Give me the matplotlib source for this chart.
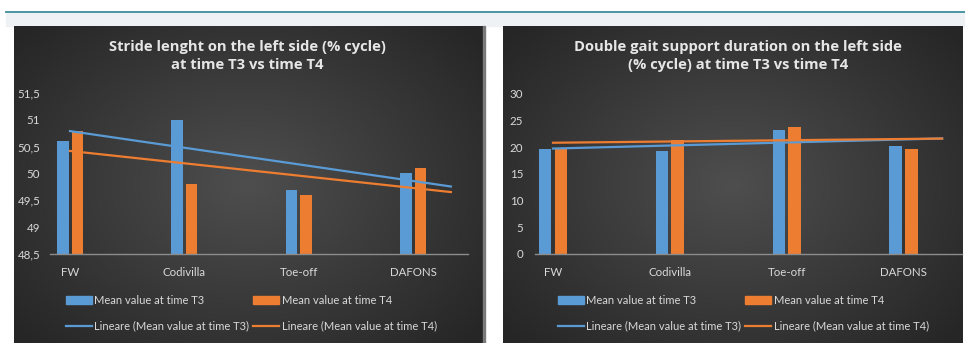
import numpy as np
import matplotlib.pyplot as plt
from matplotlib.patches import Rectangle
from matplotlib.lines import Line2D

# data
categories = ['FW', 'Codivilla', 'Toe-off', 'DAFONS']
stride_t3 = [50.6, 51.0, 49.7, 50.0]
stride_t4 = [50.8, 49.8, 49.6, 50.1]
double_t3 = [19.7, 19.3, 23.2, 20.3]
double_t4 = [19.8, 21.4, 23.9, 19.75]
stride_ticks = [48.5, 49, 49.5, 50, 50.5, 51, 51.5]
stride_ticklabels = ['48,5', '49', '49,5', '50', '50,5', '51', '51,5']
double_ticks = [0, 5, 10, 15, 20, 25, 30]
titles = ['Stride lenght on the left side (% cycle)\nat time T3 vs time T4',
          'Double gait support duration on the left side\n(% cycle) at time T3 vs time T4']
labels = ['Mean value at time T3', 'Mean value at time T4',
          'Lineare (Mean value at time T3)', 'Lineare (Mean value at time T4)']

BLUE = '#5b9bd5'
ORANGE = '#ed7d31'
TXT = '#d9d9d9'
FONT = 'Lato'

W, H = 965, 343
fig = plt.figure(figsize=(W / 100, H / 100), dpi=100, facecolor='white')


def box(x0, y0, x1, y1):
    """pixel box (top-left origin) -> figure fractions [l, b, w, h]"""
    return [x0 / W, 1 - y1 / H, (x1 - x0) / W, (y1 - y0) / H]


# page decoration: teal rule and light band
fig.add_artist(Rectangle((6 / W, 1 - 26 / H), 1, 13.5 / H, transform=fig.transFigure,
                         color='#eef2f5', zorder=0))
fig.add_artist(Line2D([6 / W, 1], [1 - 11.8 / H] * 2, transform=fig.transFigure,
                      color='#3b8e9c', lw=1.3, zorder=1))

# dark panels with radial gradient
yy, xx = np.mgrid[-1:1:200j, -1:1:300j]
rad = np.clip(np.sqrt(xx ** 2 + (yy * 0.9) ** 2) / 1.3, 0, 1)
grad = 1 - rad
for px0, px1 in [(14, 483), (503, 963)]:
    bg = fig.add_axes(box(px0, 26, px1, 343), zorder=0)
    bg.imshow(grad, cmap=plt.matplotlib.colors.LinearSegmentedColormap.from_list(
        'bg', ['#262626', '#4e4e4e']), aspect='auto', extent=(0, 1, 0, 1))
    bg.axis('off')
fig.add_artist(Rectangle((483 / W, 0), 2 / W, 1 - 26 / H, transform=fig.transFigure,
                         color='#7a7a7a', zorder=1))


def draw(rect, t3, t4, ticks, ticklabels, ylim, xlim, half, width, title, tx, lpad, leg_x):
    ax = fig.add_axes(box(*rect), zorder=2)
    ax.set_facecolor('none')
    x = np.arange(len(categories))
    ax.bar(x - half, t3, width, color=BLUE, bottom=0, zorder=2)
    ax.bar(x + half, t4, width, color=ORANGE, zorder=2)
    xt = np.array([0, 3.33])
    lines = []
    for vals, c in [(t3, BLUE), (t4, ORANGE)]:
        k, b = np.polyfit(x, vals, 1)
        ln, = ax.plot(xt, k * xt + b, color=c, lw=1.6, zorder=3)
        lines.append(ln)
    ax.set_ylim(*ylim)
    ax.set_xlim(*xlim)
    ax.set_yticks(ticks)
    ax.set_yticklabels(ticklabels)
    ax.set_xticks(x)
    ax.set_xticklabels(categories)
    ax.tick_params(length=0, colors=TXT, labelsize=8.3)
    ax.tick_params(axis='x', pad=9)
    ax.tick_params(axis='y', pad=lpad)
    for t in ax.get_xticklabels() + ax.get_yticklabels():
        t.set_fontfamily(FONT)
    for s in ['top', 'right', 'left']:
        ax.spines[s].set_visible(False)
    ax.spines['bottom'].set_color('#8c8c8c')
    ax.spines['bottom'].set_linewidth(1)
    fig.text(tx / W, 1 - 56 / H, title, ha='center', va='center', color='#e6e6e6',
             fontsize=10.6, fontweight='bold', family='Open Sans', linespacing=1.38)
    bars = [Rectangle((0, 0), 1, 1, color=BLUE), Rectangle((0, 0), 1, 1, color=ORANGE)]
    handles = [bars[0], lines[0], bars[1], lines[1]]
    order = [labels[0], labels[2], labels[1], labels[3]]
    leg = fig.legend(handles, order, ncol=2, loc='upper left',
                     bbox_to_anchor=(leg_x / W, 1 - 295 / H), frameon=False,
                     prop={'family': FONT, 'size': 8}, handlelength=2.3,
                     handleheight=0.7, handletextpad=0.25, columnspacing=0.35,
                     labelspacing=1.32, borderpad=0, borderaxespad=0)
    for t in leg.get_texts():
        t.set_color(TXT)
    return ax


draw((50, 93, 468, 254), stride_t3, stride_t4, stride_ticks, stride_ticklabels,
     (48.5, 51.5), (-0.175, 3.48), 0.063, 0.1, titles[0], 247, 7, 66)
draw((535, 94, 962, 254), double_t3, double_t4, double_ticks,
     [str(v) for v in double_ticks], (0, 30), (-0.154, 3.5), 0.067, 0.107,
     titles[1], 738, 8.5, 558)

fig.savefig('out.png', dpi=100, facecolor=fig.get_facecolor())
